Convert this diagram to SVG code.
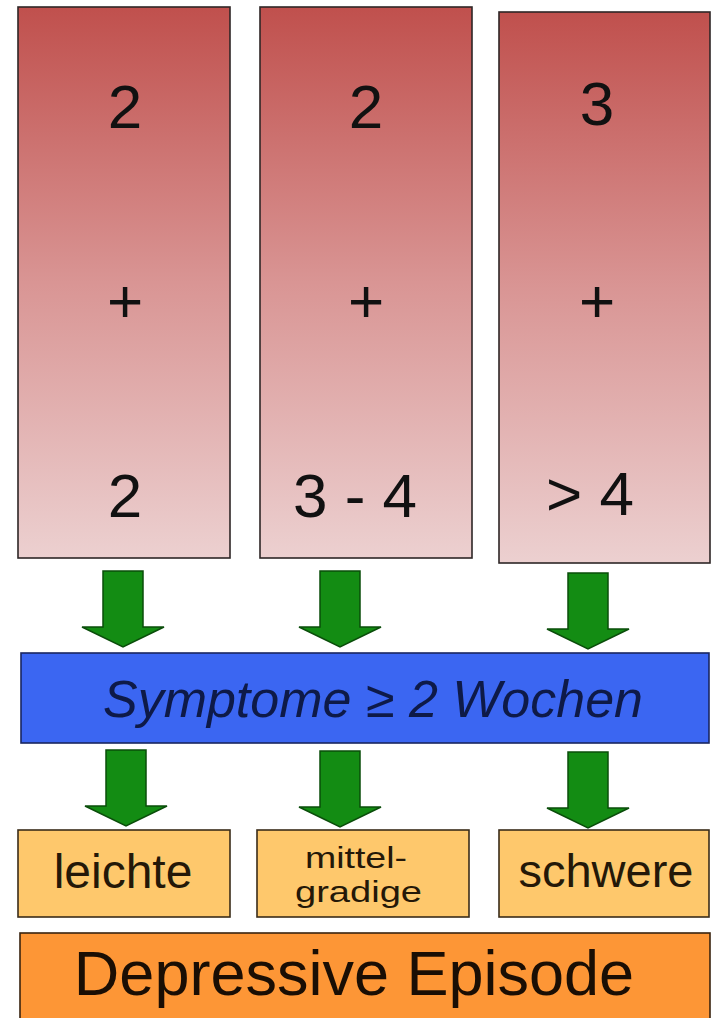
<svg xmlns="http://www.w3.org/2000/svg" xmlns:xlink="http://www.w3.org/1999/xlink" width="711" height="1018" viewBox="0 0 711 1018">
<style>
  .col { fill: url(#redgrad); stroke: #2e2626; stroke-width: 1.6; }
  .num { font-family: "Liberation Sans", Arial, sans-serif; font-size: 62px; fill: #111; text-anchor: middle; }
  .blue { fill: #3b66f2; stroke: #1a2660; stroke-width: 1.6; }
  .btxt { font-family: "Liberation Sans", Arial, sans-serif; font-style: italic; font-size: 52px; fill: #0e1a48; text-anchor: middle; }
  .yel { fill: #fec86c; stroke: #3a2c1a; stroke-width: 1.6; }
  .ytxt { font-family: "Liberation Sans", Arial, sans-serif; fill: #241808; text-anchor: middle; }
  .ytxs { font-family: "Liberation Sans", Arial, sans-serif; fill: #241808; font-size: 30px; }
  .org { fill: #fd9636; stroke: #3a2410; stroke-width: 1.6; }
  .otxt { font-family: "Liberation Sans", Arial, sans-serif; font-size: 63px; fill: #1a0e04; text-anchor: middle; }
  .arrow { fill: #138c13; stroke: #0a4d0a; stroke-width: 1.5; stroke-linejoin: miter; }
</style>
<defs>
  <linearGradient id="redgrad" x1="0" y1="0" x2="0" y2="1">
    <stop offset="0" stop-color="#c0504d"/>
    <stop offset="0.5" stop-color="#d99594"/>
    <stop offset="1" stop-color="#ecd0d0"/>
  </linearGradient>
  <path id="arr" d="M-20,0 H20 V56 H41 L0,76 L-41,56 H-20 Z"/>
</defs>
<rect width="711" height="1018" fill="#ffffff"/>

<g id="col1">
  <rect class="col" x="18" y="7" width="212" height="551"/>
  <text class="num" x="125" y="128">2</text>
  <text class="num" x="125" y="322">+</text>
  <text class="num" x="125" y="517">2</text>
</g>
<g id="col2">
  <rect class="col" x="260" y="7" width="212" height="551"/>
  <text class="num" x="366" y="128">2</text>
  <text class="num" x="366" y="322">+</text>
  <text class="num" x="355" y="517">3 - 4</text>
</g>
<g id="col3">
  <rect class="col" x="499" y="12" width="211" height="551"/>
  <text class="num" x="597" y="125">3</text>
  <text class="num" x="597" y="322">+</text>
  <text class="num" x="590" y="515">&gt; 4</text>
</g>

<g id="symptome">
  <rect class="blue" x="21" y="653" width="688" height="90"/>
  <text class="btxt" x="373" y="717">Symptome ≥ 2 Wochen</text>
</g>

<g id="leichte">
  <rect class="yel" x="18" y="830" width="212" height="87"/>
  <text class="ytxt" x="123" y="888" font-size="48">leichte</text>
</g>
<g id="mittelgradige">
  <rect class="yel" x="257" y="830" width="212" height="87"/>
  <text class="ytxs" x="305" y="868" textLength="102" lengthAdjust="spacingAndGlyphs">mittel-</text>
  <text class="ytxs" x="295" y="902" textLength="127" lengthAdjust="spacingAndGlyphs">gradige</text>
</g>
<g id="schwere">
  <rect class="yel" x="499" y="830" width="210" height="87"/>
  <text class="ytxt" x="606" y="887" font-size="47">schwere</text>
</g>

<g id="episode">
  <rect class="org" x="20" y="933" width="690" height="100"/>
  <text class="otxt" x="354" y="995">Depressive Episode</text>
</g>

<g id="connectors">
  <use href="#arr" class="arrow" transform="translate(123,571)"/>
  <use href="#arr" class="arrow" transform="translate(340,571)"/>
  <use href="#arr" class="arrow" transform="translate(588,573)"/>
  <use href="#arr" class="arrow" transform="translate(126,750)"/>
  <use href="#arr" class="arrow" transform="translate(340,751)"/>
  <use href="#arr" class="arrow" transform="translate(588,752)"/>
</g>
</svg>
